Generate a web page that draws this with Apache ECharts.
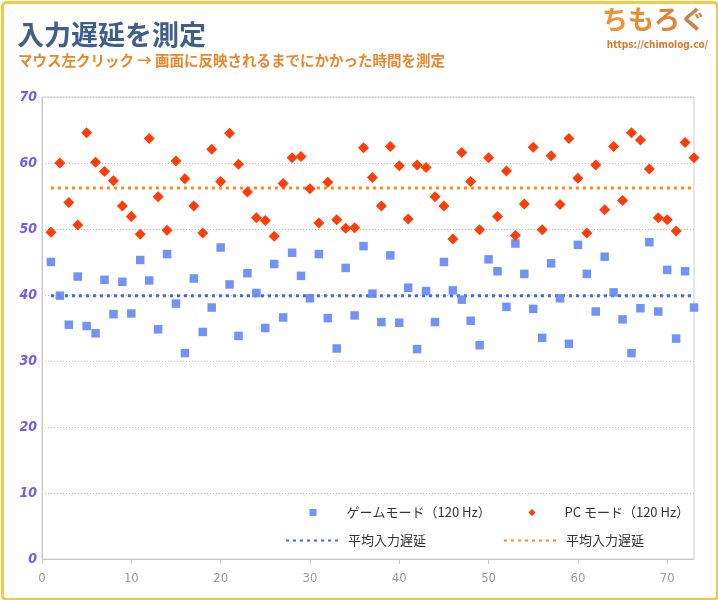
<!DOCTYPE html>
<html>
<head>
<meta charset="utf-8">
<script src="https://cdn.jsdelivr.net/npm/echarts@6/dist/echarts.min.js"></script>
<style>
html,body{margin:0;padding:0;background:#fff;}
#chart{width:718px;height:600px;}
</style>
</head>
<body>
<div id="chart"></div>
<script>
// ---- data ----
const titleText = '入力遅延を測定';
const subtitleText = 'マウス左クリック → 画面に反映されるまでにかかった時間を測定';
const gameName = 'ゲームモード（120 Hz）';
const pcName = 'PC モード（120 Hz）';
const avgName = '平均入力遅延';
const xTickValues = [0, 10, 20, 30, 40, 50, 60, 70];
const gameValues = [45.0, 39.9, 35.5, 42.8, 35.3, 34.2, 42.3, 37.1, 42.0, 37.2, 45.3, 42.2, 34.8, 46.2, 38.7, 31.2, 42.5, 34.4, 38.1, 47.2, 41.6, 33.8, 43.3, 40.3,
  35.0, 44.7, 36.6, 46.4, 42.9, 39.5, 46.2, 36.5, 31.9, 44.1, 36.9, 47.4, 40.2, 35.9, 46.0, 35.8, 41.1, 31.8, 40.6, 35.9, 45.0, 40.7, 39.3, 36.1,
  32.4, 45.4, 43.6, 38.2, 47.8, 43.2, 37.9, 33.5, 44.8, 39.5, 32.6, 47.6, 43.2, 37.5, 45.8, 40.4, 36.3, 31.2, 38.0, 48.0, 37.5, 43.8, 33.4, 43.6, 38.1];
const pcValues = [49.5, 60.0, 54.0, 50.6, 64.6, 60.1, 58.7, 57.3, 53.5, 51.9, 49.2, 63.7, 54.9, 49.8, 60.3, 57.6, 53.5, 49.4, 62.1, 57.2, 64.5, 59.8, 55.6, 51.7,
  51.3, 48.9, 56.9, 60.8, 61.0, 56.1, 50.9, 57.1, 51.4, 50.1, 50.2, 62.3, 57.8, 53.5, 62.5, 59.6, 51.5, 59.7, 59.3, 54.9, 53.5, 48.5, 61.6, 57.2,
  49.9, 60.8, 51.9, 58.8, 49.0, 53.8, 62.4, 49.9, 61.1, 53.7, 63.7, 57.7, 49.4, 59.7, 52.9, 62.5, 54.3, 64.6, 63.5, 59.1, 51.7, 51.4, 49.7, 63.1, 60.8];
const gameAverage = 39.9;
const pcAverage = 56.2;
// ----------------------------------------

const n = gameValues.length;
const gameData = gameValues.map((v, i) => [i + 1, v]);
const pcData = pcValues.map((v, i) => [i + 1, v]);
const gameAvgData = [[1, gameAverage], [n, gameAverage]];
const pcAvgData = [[1, pcAverage], [n, pcAverage]];
const pcAvgSeriesName = avgName + '（PC）';

const jp = '"Noto Sans CJK JP", "Noto Sans", sans-serif';
const narrow = '"Liberation Sans Narrow", "DejaVu Sans Condensed", Roboto, sans-serif';
const legendText = { color: '#333', fontSize: 13, fontFamily: jp };

const chart = echarts.init(document.getElementById('chart'), null, { renderer: 'canvas' });
chart.setOption({
  animation: false,
  backgroundColor: '#fff',
  title: [
    { text: titleText, left: 17, top: 21, padding: 0, textStyle: { fontFamily: jp, fontSize: 27, fontWeight: 'bold', color: '#3f5f8b' } },
    { text: subtitleText, left: 18, top: 53, padding: 0, textStyle: { fontFamily: jp, fontSize: 14.5, fontWeight: 'bold', color: '#e8872b' } }
  ],
  grid: { left: 42, right: 24, top: 97, bottom: 41, show: true, borderColor: '#cfcfcf', borderWidth: 1, containLabel: false },
  xAxis: {
    type: 'value', min: 0, max: n, interval: 10,
    axisLine: { show: true, lineStyle: { color: '#c8c8c8', width: 1 } },
    axisTick: { show: true, length: 5, lineStyle: { color: '#c8c8c8' }, customValues: xTickValues },
    axisLabel: { color: '#9a9a9a', fontSize: 13, margin: 13, fontFamily: narrow, customValues: xTickValues },
    splitLine: { show: false }
  },
  yAxis: {
    type: 'value', min: 0, max: 70, interval: 10,
    axisLine: { show: true, lineStyle: { color: '#c8c8c8', width: 1 } },
    axisTick: { show: false },
    axisLabel: { color: '#7458f0', fontSize: 14, fontStyle: 'italic', fontWeight: 'bold', margin: 5, fontFamily: narrow },
    splitLine: { show: true, lineStyle: { color: '#c4c4c4', type: [1, 2], width: 1 } }
  },
  legend: [
    { data: [gameName], left: 309.5, top: 506, padding: 0, itemWidth: 7, itemHeight: 7, textStyle: Object.assign({ padding: [0, 0, 0, 25] }, legendText), selectedMode: false },
    { data: [pcName], left: 528.5, top: 506, padding: 0, itemWidth: 7, itemHeight: 7, textStyle: Object.assign({ padding: [0, 0, 0, 24] }, legendText), selectedMode: false },
    { data: [avgName], left: 285, top: 534, padding: 0, itemWidth: 55, itemHeight: 14, itemStyle: { opacity: 0 }, textStyle: Object.assign({ padding: [0, 0, 0, 2] }, legendText), selectedMode: false },
    { data: [pcAvgSeriesName], left: 503, top: 534, padding: 0, itemWidth: 55, itemHeight: 14, itemStyle: { opacity: 0 }, formatter: () => avgName, textStyle: Object.assign({ padding: [0, 0, 0, 2] }, legendText), selectedMode: false }
  ],
  series: [
    { name: avgName, type: 'line', data: gameAvgData, symbol: 'none', showSymbol: false, z: 1,
      lineStyle: { color: '#4164f2', width: 3, type: [3, 4] }, itemStyle: { color: '#4164f2' } },
    { name: pcAvgSeriesName, type: 'line', data: pcAvgData, symbol: 'none', showSymbol: false, z: 1,
      lineStyle: { color: '#ff8a12', width: 3, type: [3, 4] }, itemStyle: { color: '#ff8a12' } },
    { name: gameName, type: 'scatter', data: gameData, symbol: 'rect', symbolSize: 8.5, z: 3,
      itemStyle: { color: '#6689f4', opacity: 0.92 } },
    { name: pcName, type: 'scatter', data: pcData, symbol: 'diamond', symbolSize: 11, z: 4,
      itemStyle: { color: '#ff3d05', opacity: 1 } }
  ],
  graphic: [
    { type: 'text', right: 12, top: 6, style: {
        text: '{a|ち}{b|も}{c|ろ}{d|ぐ}',
        rich: {
          a: { fontFamily: jp, fontSize: 26, fontWeight: 'bold', fill: '#f29232' },
          b: { fontFamily: jp, fontSize: 26, fontWeight: 'bold', fill: '#ee8a2e' },
          c: { fontFamily: jp, fontSize: 26, fontWeight: 'bold', fill: '#dc8639' },
          d: { fontFamily: jp, fontSize: 26, fontWeight: 'bold', fill: '#cf8245' }
        } } },
    { type: 'text', right: 10, top: 40, style: { text: 'https://chimolog.co/', fontFamily: narrow, fontSize: 10, fontWeight: 'bold', fill: '#d77a2c' } },
    { type: 'rect', left: 0, top: 0, shape: { x: 1.5, y: 1.5, width: 715, height: 597, r: 4 }, style: { fill: 'none', stroke: '#f6c743', lineWidth: 3 }, silent: true, z: 100 }
  ]
});
</script>
</body>
</html>
